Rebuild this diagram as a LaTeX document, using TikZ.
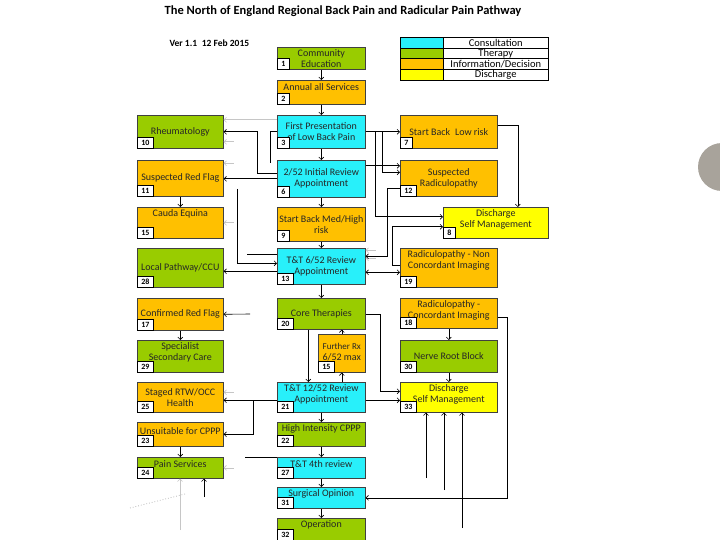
\documentclass[tikz,border=0pt]{standalone}
\usepackage{fontspec}
\setmainfont{Carlito}
\usetikzlibrary{arrows.meta}
\definecolor{ccyan}{RGB}{40,240,250}
\definecolor{cgreen}{RGB}{153,204,0}
\definecolor{corange}{RGB}{255,192,0}
\definecolor{cyellow}{RGB}{255,255,0}
\definecolor{cgrey}{RGB}{168,163,155}
\newcommand{\pbox}[9]{%
  \node[box, fill=#6, minimum width=#4pt, minimum height=#5pt] (#1) at (#2,#3) {};
  \node[btext] (#1t) at ([yshift=#9pt]#1.center) {#8};
  \node[numbox] (#1num) at (#1.south west) {#7};}
\begin{document}
\begin{tikzpicture}[x=1pt,y=-1pt,
  box/.style={draw=black!75, line width=0.6pt, inner sep=0pt, anchor=north west},
  btext/.style={align=center, inner sep=0pt, text=black!85,
    font=\fontsize{10}{11}\selectfont},
  numbox/.style={draw=black, fill=white, line width=0.5pt, inner xsep=4pt, inner ysep=1pt,
    minimum width=12pt, minimum height=11pt, anchor=south west,
    font=\fontsize{8}{8}\selectfont\bfseries},
  conn/.style={draw, line width=0.6pt, -{Straight Barb[length=2.5pt,width=5pt]}},
  plain/.style={draw, line width=0.6pt},
  ghost/.style={conn, draw=gray!45},
  legc/.style={draw=black, line width=0.5pt, anchor=north west, minimum width=43pt, inner sep=0pt},
  legt/.style={draw=black, line width=0.5pt, anchor=north west, minimum width=105pt, inner sep=0pt,
    font=\fontsize{10.5}{10.5}\selectfont}]
\useasboundingbox (0,0) rectangle (720,540);

% title
\node[font=\fontsize{12.5}{14}\selectfont\bfseries] (title) at (343,11)
  {The North of England Regional Back Pain and Radicular Pain Pathway};
\node[font=\fontsize{9.5}{11}\selectfont\bfseries, anchor=west] (ver) at (166,43) {Ver 1.1\enspace 12 Feb 2015};

% legend
\node[legc, fill=ccyan, minimum height=11pt] (lc1) at (400,37) {};
\node[legt, minimum height=11pt] (lt1) at (443,37) {Consultation};
\node[legc, fill=cgreen, minimum height=10pt] (lc2) at (400,48) {};
\node[legt, minimum height=10pt] (lt2) at (443,48) {Therapy};
\node[legc, fill=corange, minimum height=11pt] (lc3) at (400,58) {};
\node[legt, minimum height=11pt] (lt3) at (443,58) {Information/Decision};
\node[legc, fill=cyellow, minimum height=11pt] (lc4) at (400,69) {};
\node[legt, minimum height=11pt] (lt4) at (443,69) {Discharge};

% middle column
\pbox{n1}{277}{47}{88}{22}{cgreen}{1}{Community\\Education}{0}
\pbox{n2}{277}{80}{88}{24}{corange}{2}{Annual all Services}{5}
\pbox{n3}{277}{115}{88}{33}{ccyan}{3}{First Presentation\\of Low Back Pain}{0}
\pbox{n6}{277}{160}{88}{37}{ccyan}{6}{2/52 Initial Review\\Appointment}{0}
\pbox{n9}{277}{207}{88}{34}{corange}{9}{Start Back Med/High\\risk}{0}
\pbox{n13}{277}{248}{88}{36}{ccyan}{13}{T\&T 6/52 Review\\Appointment}{0}
\pbox{n20}{277}{298}{88}{31}{cgreen}{20}{Core Therapies}{0}
\pbox{n15}{318}{334}{47}{38}{corange}{15}{\fontsize{9}{11}\selectfont Further Rx\\6/52 max}{1.5}
\pbox{n21}{277}{382}{88}{30}{ccyan}{21}{T\&T 12/52 Review\\Appointment}{3}
\pbox{n22}{277}{422}{88}{24}{cgreen}{22}{High Intensity CPPP}{5}
\pbox{n27}{277}{457}{88}{21}{ccyan}{27}{T\&T 4th review}{3.5}
\pbox{n31}{277}{487}{88}{21}{ccyan}{31}{Surgical Opinion}{4}
\pbox{n32}{277}{518}{88}{22}{cgreen}{32}{Operation}{4}

% left column
\pbox{n10}{137}{115}{86}{33}{cgreen}{10}{Rheumatology}{0}
\pbox{n11}{137}{160}{86}{36}{corange}{11}{Suspected Red Flag}{0}
\pbox{n15c}{137}{207}{86}{31}{corange}{15}{Cauda Equina}{8.5}
\pbox{n28}{137}{248}{86}{39}{cgreen}{28}{Local Pathway/CCU}{0}
\pbox{n17}{137}{298}{86}{32}{corange}{17}{Confirmed Red Flag}{0}
\pbox{n29}{137}{340}{86}{32}{cgreen}{29}{Specialist\\Secondary Care}{4}
\pbox{n25}{137}{382}{86}{30}{corange}{25}{Staged RTW/OCC\\Health}{0}
\pbox{n23}{137}{422}{86}{24}{corange}{23}{Unsuitable for CPPP}{3}
\pbox{n24}{137}{457}{86}{21}{cgreen}{24}{Pain Services}{3.5}

% right column
\pbox{n7}{400}{115}{97}{33}{corange}{7}{Start Back\enspace Low risk}{0}
\pbox{n12}{400}{160}{97}{36}{corange}{12}{Suspected\\Radiculopathy}{0}
\pbox{n8}{443}{207}{105}{31}{cyellow}{8}{Discharge\\Self Management}{3}
\pbox{n19}{400}{248}{97}{39}{corange}{19}{Radiculopathy - Non\\Concordant Imaging}{7}
\pbox{n18}{400}{298}{97}{30}{corange}{18}{Radiculopathy -\\Concordant Imaging}{3}
\pbox{n30}{400}{340}{97}{32}{cgreen}{30}{Nerve Root Block}{0}
\pbox{n33}{400}{382}{97}{30}{cyellow}{33}{Discharge\\Self Management}{3}

% free ends
\coordinate (f1) at (237,189);
\coordinate (f2) at (250,314);
\coordinate (f3) at (245,457);
\coordinate (f4) at (426,478);
\coordinate (f5) at (444,490);
\coordinate (f6) at (462,528);
\coordinate (f7) at (204,497);
\coordinate (f8) at (180,530);
\coordinate (f9) at (130,508);
\coordinate (f10) at (185,494);

% middle spine
\draw[conn] (n1.south) -- (n2.north);
\draw[conn] (n2.south) -- (n3.north);
\draw[conn] (n3.south) -- (n6.north);
\draw[conn] (n6.south) -- (n9.north);
\draw[conn] (n9.south) -- (n13.north);
\draw[conn] (n13.south) -- (n20.north);
\draw[conn] ([xshift=-13pt]n20.south) -- ([xshift=-13pt]n21.north);
\draw[conn] (n15.north) -- (n15.north |- n20.south);
\draw[conn] (n15.south |- n21.north) -- (n15.south);
\draw[conn] (n21.south) -- (n22.north);
\draw[conn] (n22.south) -- (n27.north);
\draw[conn] (n27.south) -- (n31.north);
\draw[conn] (n31.south) -- (n32.north);

% left column links
\draw[conn] (n11.south) -- (n15c.north);
\draw[conn] (n17.south) -- (n29.north);
\draw[conn] (n23.south) -- (n24.north);
\draw[conn] (n6.west) -- (n6.west -| n11.east);
\draw[ghost] ([yshift=12pt]n3.west) -- ([yshift=12pt]n3.west -| n10.east);
\draw[conn] ([yshift=5pt]n6.west) -- ++(-20,0) |- (n10.east);
\draw[plain] (n3.west) -- ++(-7,0) -- ++(0,31);
\draw[conn] (f1) |- ([yshift=3pt]n13.west);
\draw[plain] ([yshift=12pt]n13.west) -- ++(-30,0);
\draw[conn] ([yshift=-5pt]n13.west) -- ([yshift=-5pt]n13.west -| n28.east);
\draw[conn] (f2) -- (n17.east);
\draw[conn] ([yshift=-3pt]n21.west) -- ([yshift=-3pt]n21.west -| n25.east);
\draw[conn] ([yshift=-3pt]n21.west) -- ++(-24,0) |- (n23.east);
\draw[plain] (f3) -- (n27.north west);
\draw[conn] (f7) -- (f7 |- n24.south);
\draw[ghost] (f8) -- (f8 |- n24.south);
\draw[gray!55, dotted, line width=0.8pt] (f9) -- (f10);

% faint arrowheads on the left
\draw[ghost] ([xshift=10pt,yshift=-10pt]n10.east) -- ([yshift=-10pt]n10.east);
\draw[ghost] ([xshift=10pt,yshift=15pt]n11.east) -- ([yshift=15pt]n11.east);
\draw[ghost] ([xshift=10pt]n15c.east) -- (n15c.east);
\draw[ghost] ([xshift=10pt,yshift=5pt]n25.east) -- ([yshift=5pt]n25.east);
\draw[ghost] ([xshift=10pt]n24.east) -- (n24.east);
\draw[ghost] ([xshift=10pt,yshift=16pt]n13.east) -- ([yshift=16pt]n13.east);
\draw[ghost] ([xshift=10pt,yshift=8pt]n13.east) -- ([yshift=8pt]n13.east);

% right side links
\draw[conn] (n3.east) -- (n3.east -| n7.west);
\draw[conn] (n3.east) -- ++(17,0) |- ([yshift=6pt]n12.west);
\draw[conn] ([yshift=13pt]n6.east) -- ([yshift=13pt]n6.east -| n12.west);
\draw[conn] (n3.east) -- ++(10,0) |- ([yshift=6pt]n8.west);
\draw[conn] ([yshift=-10pt]n12.west) -- ++(-13,0) |- ([yshift=10pt]n13.east);
\draw[conn] ([yshift=3pt]n19.west) -- ++(-8,0) |- ([yshift=-4pt]n8.west);
\draw[conn, {Straight Barb[length=2.5pt,width=5pt]}-{Straight Barb[length=2.5pt,width=5pt]}]
  ([yshift=-6pt]n13.east) -- ([yshift=-6pt]n13.east -| n19.west);
\draw[conn] ([yshift=6pt]n7.east) -| ([xshift=22pt]n8.north);
\draw[conn] (n20.east) -- ++(15,0) |- ([yshift=6pt]n33.west);
\draw[conn] ([yshift=-3pt]n21.east) -- ([yshift=-3pt]n21.east -| n33.west);
\draw[conn] (n18.south) -- (n30.north);
\draw[conn] (n30.south) -- (n33.north);
\draw[conn] ([yshift=-4pt]n18.east) -- ++(10,0) |- (n31.east);
\draw[conn] (f4) -- (f4 |- n33.south);
\draw[conn] (f5) -- (f5 |- n33.south);
\draw[conn] (f6) -- (f6 |- n33.south);

% decorative circle at the right edge
\fill[cgrey] (722,167) circle[radius=24pt];
\end{tikzpicture}
\end{document}
